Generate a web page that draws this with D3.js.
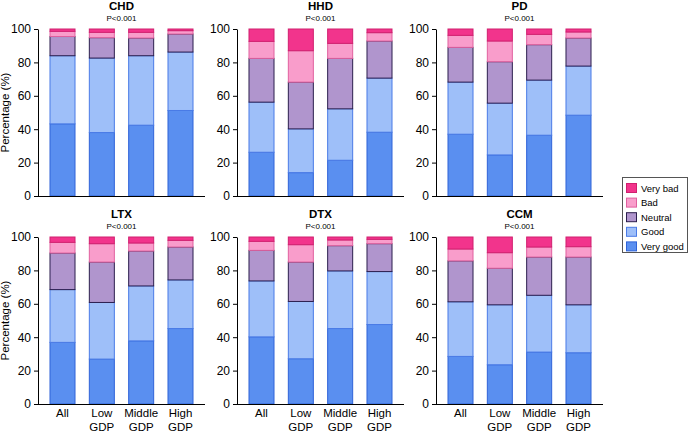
<!DOCTYPE html>
<html><head><meta charset="utf-8">
<script src="https://cdn.jsdelivr.net/npm/d3@7"></script>
<style>body{margin:0;background:#fff;}svg{display:block;font-family:"Liberation Sans",Arial,sans-serif;}</style>
</head><body><svg id="c" width="690" height="434"></svg>
<script>
const categories = ["All", "Low GDP", "Middle GDP", "High GDP"];
const panels = ["CHD", "HHD", "PD", "LTX", "DTX", "CCM"];
const pValues = ["P<0.001", "P<0.001", "P<0.001", "P<0.001", "P<0.001", "P<0.001"];
const levels = ["Very good", "Good", "Neutral", "Bad", "Very bad"];
// values per panel (rows) for each category (columns)
const veryGood = [[43.2,38.0,42.4,51.2],[26.2,14.0,21.4,38.2],[37.0,24.6,36.4,48.4],[36.9,26.9,37.8,45.2],[40.2,27.1,45.2,47.6],[28.5,23.5,31.1,30.7]];
const good     = [[40.8,44.6,41.6,35.0],[30.0,26.2,30.8,32.4],[31.2,31.0,33.0,29.4],[31.6,33.9,32.9,29.1],[33.5,34.3,34.5,31.7],[32.7,35.9,34.0,28.7]];
const neutral  = [[11.5,12.2,10.6,10.8],[26.2,28.0,30.2,22.2],[20.8,24.8,21.2,16.8],[21.9,24.2,20.9,19.7],[18.3,23.6,15.1,16.7],[24.5,21.9,22.9,28.6]];
const bad      = [[3.1,3.2,3.4,2.0],[10.2,18.8,9.0,5.0],[7.2,12.4,6.2,3.6],[6.4,11.0,4.8,4.0],[5.4,10.4,3.4,2.6],[7.1,9.3,6.0,6.2]];
const veryBad  = [[1.4,2.0,2.0,1.0],[7.4,13.0,8.6,2.2],[3.8,7.2,3.2,1.8],[3.2,4.0,3.6,2.0],[2.6,4.6,1.8,1.4],[7.2,9.4,6.0,5.8]];
const yTicks = [0,20,40,60,80,100];

const seriesArrays = [veryGood, good, neutral, bad, veryBad];
const fills   = ["#5a8ff0", "#9ebff9", "#b095cd", "#f99dcb", "#f2348c"];
const strokes = ["#2f63d8", "#4a7be6", "#2c1f4e", "#e0609f", "#d0206f"];

const svg = d3.select("#c");
const colX = [38, 237, 436];
const rowY = [29, 237];
const pw = 167, ph = 167;

panels.forEach((name, pi) => {
  const col = pi % 3, row = Math.floor(pi / 3);
  const x0 = colX[col], y0 = rowY[row];
  const g = svg.append("g").attr("transform", `translate(${x0},${y0})`);
  const x = d3.scaleBand().domain(categories).range([0, pw]).paddingInner(0.364).paddingOuter(0.305);
  const y = d3.scaleLinear().domain([0, 100]).range([ph, 0]);
  const rows = categories.map((c, ci) => {
    const o = {cat: c};
    levels.forEach((l, li) => o[l] = seriesArrays[li][pi][ci]);
    return o;
  });
  const stack = d3.stack().keys(levels)(rows);
  stack.forEach((s, li) => {
    g.selectAll(null).data(s).join("rect")
      .attr("x", d => x(d.data.cat))
      .attr("y", d => y(d[1]))
      .attr("width", x.bandwidth())
      .attr("height", d => y(d[0]) - y(d[1]))
      .attr("fill", fills[li])
      .attr("stroke", strokes[li])
      .attr("stroke-width", 1);
  });
  const ya = g.append("g").call(d3.axisLeft(y).tickValues(yTicks).tickSize(4).tickSizeOuter(0));
  ya.selectAll("text").attr("font-size", 12).attr("fill", "#000").attr("font-family", "Liberation Sans, Arial, sans-serif");
  ya.select(".domain").attr("stroke", "#000");
  ya.selectAll(".tick line").attr("stroke", "#000");
  g.append("line").attr("x1", 0).attr("x2", pw).attr("y1", ph + 0.5).attr("y2", ph + 0.5).attr("stroke", "#000");
  g.append("text").attr("x", pw / 2).attr("y", -19).attr("text-anchor", "middle")
    .attr("font-size", 11.5).attr("font-weight", "bold").text(name);
  g.append("text").attr("x", pw / 2).attr("y", -8).attr("text-anchor", "middle")
    .attr("font-size", 8).text(pValues[pi]);
  if (row === 1) {
    categories.forEach(c => {
      const parts = c.split(" ");
      const t = g.append("text").attr("text-anchor", "middle").attr("font-size", 11.5)
        .attr("x", x(c) + x.bandwidth() / 2).attr("y", ph + 13);
      parts.forEach((p, k) => t.append("tspan").attr("x", x(c) + x.bandwidth() / 2).attr("dy", k === 0 ? 0 : 14).text(p));
    });
  }
  if (col === 0) {
    g.append("text").attr("transform", `translate(${-29},${ph / 2}) rotate(-90)`)
      .attr("text-anchor", "middle").attr("font-size", 11.5).text("Percentage (%)");
  }
});

// legend
const lg = svg.append("g").attr("transform", "translate(622,177)");
lg.append("rect").attr("x", 0.5).attr("y", 0.5).attr("width", 65).attr("height", 75)
  .attr("fill", "#fff").attr("stroke", "#555");
const legendOrder = [4, 3, 2, 1, 0];
legendOrder.forEach((li, k) => {
  lg.append("rect").attr("x", 4.5).attr("y", 6.5 + k * 14.6).attr("width", 10).attr("height", 9)
    .attr("fill", fills[li]).attr("stroke", strokes[li]);
  lg.append("text").attr("x", 19).attr("y", 14.5 + k * 14.6).attr("font-size", 9.5).text(levels[li]);
});
</script></body></html>
